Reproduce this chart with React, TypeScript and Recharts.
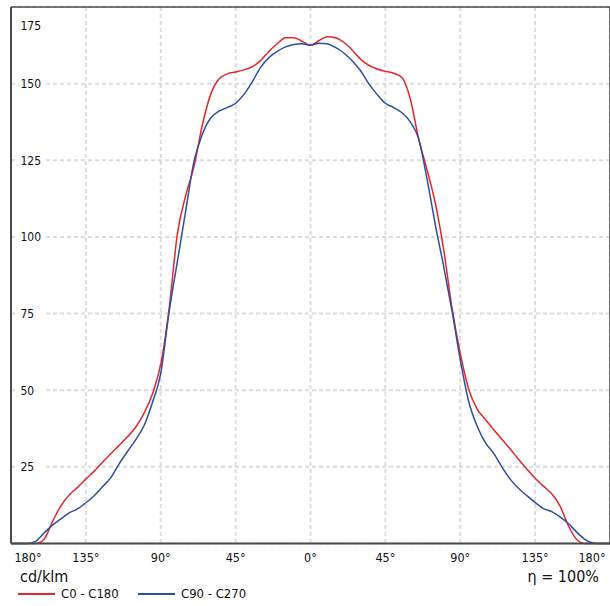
import React from "react";
import {
  LineChart,
  Line,
  XAxis,
  YAxis,
  CartesianGrid,
  ReferenceLine,
} from "recharts";

const angles = [
  -180, -175, -170, -165, -160, -155, -150, -145, -140, -135, -130, -125, -120,
  -115, -110, -105, -100, -95, -90, -85, -80, -75, -70, -65, -60, -55, -50, -45,
  -40, -35, -30, -25, -20, -15, -10, -5, 0, 5, 10, 15, 20, 25, 30, 35, 40, 45,
  50, 55, 60, 65, 70, 75, 80, 85, 90, 95, 100, 105, 110, 115, 120, 125, 130,
  135, 140, 145, 150, 155, 160, 165, 170, 175, 180,
];

// C0 - C180 (left half is C180)
const c0c180 = [
  0, 0, 0, 0, 1.5, 7.2, 12.3, 15.8, 18.3, 21, 23.6, 26.5, 29.3, 32, 34.8, 38,
  42.5, 48.8, 58.5, 76.5, 101, 113.5, 123, 136.5, 146.5, 151.5, 153.2, 153.8,
  154.5, 155.5, 157.5, 160.5, 163, 165, 165, 163.8, 162.5, 164, 165.3, 165,
  163.5, 161, 158, 156, 154.8, 154, 153.4, 152, 145, 132, 122, 111, 96, 77, 62,
  50.5, 44, 40.5, 37.2, 34, 30.8, 27.5, 24.3, 21.3, 18.7, 16.2, 12.2, 5.8, 1.3,
  0, 0, 0, 0,
];

// C90 - C270
const c90c270 = [
  0, 0, 0, 0.8, 3.5, 6, 8, 10, 11.3, 13.3, 15.6, 18.5, 21.5, 26, 30, 33.9, 38.5,
  46, 55.5, 75.5, 92, 108.5, 124.7, 133.5, 138.8, 141, 142.2, 143.6, 146.5,
  150.6, 155.3, 158.5, 160.5, 162, 162.8, 163, 162.5, 163.2, 163, 161.8, 160,
  157.5, 154.3, 150, 146.5, 143.6, 142.2, 140.5, 137.5, 132, 119, 104, 90.5, 76,
  60, 46.5, 38.5, 33, 29.5, 25, 21, 18, 15.6, 13.4, 11.4, 10.4, 8.7, 6.5, 3.7,
  1.3, 0.2, 0, 0,
];

const xTicks = [-180, -135, -90, -45, 0, 45, 90, 135, 180];
const yTicks = [0, 25, 50, 75, 100, 125, 150, 175];

const seriesNames = ["C0 - C180", "C90 - C270"];
const RED = "#e8262a";
const BLUE = "#2b4fa3";
const FONT = "'DejaVu Sans Condensed', 'DejaVu Sans', sans-serif";

const rows = angles.map((a, i) => ({ a, r: c0c180[i], b: c90c270[i] }));

function YTick(props: any) {
  const { y, payload } = props;
  if (payload.value === 0) return null;
  // top label sits below the frame
  const yy = payload.value === 175 ? y + 18.5 : y;
  return (
    <g>
      <rect x={18} y={yy - 7} width={27} height={14} fill="#fff" />
      <text x={20.5} y={yy} dy="0.36em" fontSize={12} fill="#111" fontFamily={FONT}>
        {payload.value}
      </text>
    </g>
  );
}

function XTick(props: any) {
  const { x, payload } = props;
  let xx = x;
  if (payload.value === -180) xx = x + 17;
  if (payload.value === 180) xx = x - 18;
  return (
    <text x={xx} y={561.5} textAnchor="middle" fontSize={12.5} fill="#111" fontFamily={FONT}>
      {Math.abs(payload.value) + "°"}
    </text>
  );
}

export default function App() {
  return (
    <div style={{ position: "absolute", left: 0, top: 0, width: 610, height: 606, background: "#fff" }}>
      <LineChart
        width={610}
        height={606}
        data={rows}
        margin={{ top: 7, right: 0, left: 10, bottom: 0 }}
      >
        <CartesianGrid stroke="#dcdcdc" strokeWidth={2} strokeDasharray="4 3" />
        <XAxis
          type="number"
          dataKey="a"
          domain={[-180, 180]}
          ticks={xTicks}
          height={62.5}
          tickLine={false}
          axisLine={{ stroke: "#4a4a4a", strokeWidth: 2 }}
          tick={<XTick />}
          interval={0}
        />
        <YAxis
          type="number"
          domain={[0, 175]}
          ticks={yTicks}
          width={1}
          tickLine={false}
          axisLine={{ stroke: "#4a4a4a", strokeWidth: 2 }}
          tick={(p: any) => <YTick {...p} />}
          interval={0}
        />
        <ReferenceLine y={175} stroke="#4a4a4a" strokeWidth={1.5} />
        <ReferenceLine x={180} stroke="#4a4a4a" strokeWidth={1.5} />
        <Line
          type="monotone"
          dataKey="r"
          name={seriesNames[0]}
          stroke={RED}
          strokeWidth={1.5}
          dot={false}
          isAnimationActive={false}
        />
        <Line
          type="monotone"
          dataKey="b"
          name={seriesNames[1]}
          stroke={BLUE}
          strokeWidth={1.5}
          dot={false}
          isAnimationActive={false}
        />
      </LineChart>
      <div style={{ position: "absolute", left: 20, top: 567, fontFamily: FONT, fontSize: 16, color: "#111", lineHeight: "20px" }}>
        cd/klm
      </div>
      <div style={{ position: "absolute", right: 11, top: 567, fontFamily: FONT, fontSize: 16, color: "#111", lineHeight: "20px" }}>
        η = 100%
      </div>
      <div style={{ position: "absolute", left: 18, top: 586, display: "flex", alignItems: "center", fontFamily: FONT, fontSize: 13, color: "#111", lineHeight: "16px" }}>
        <span style={{ display: "inline-block", width: 37, height: 1.5, background: RED, marginRight: 6 }} />
        <span style={{ width: 77 }}>{seriesNames[0]}</span>
        <span style={{ display: "inline-block", width: 37, height: 1.5, background: BLUE, marginRight: 6 }} />
        <span>{seriesNames[1]}</span>
      </div>
    </div>
  );
}
